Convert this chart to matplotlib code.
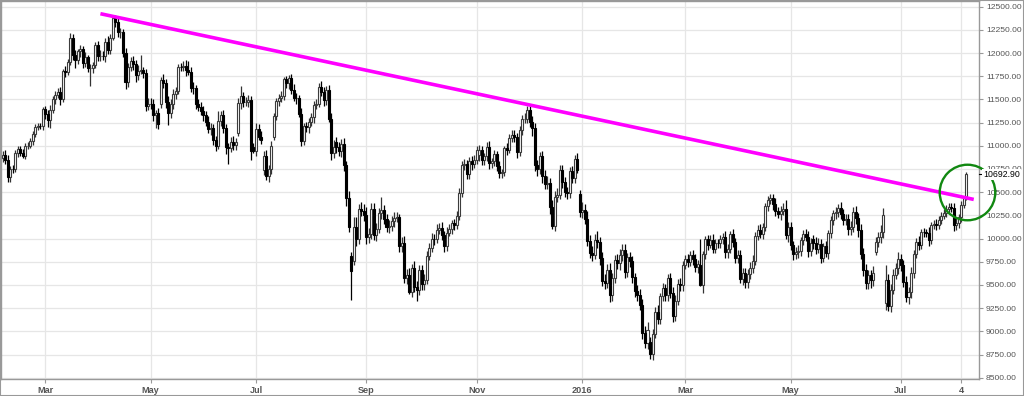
import numpy as np
import pandas as pd
import matplotlib
matplotlib.use('Agg')
import matplotlib.pyplot as plt
import matplotlib.transforms as mtransforms
from matplotlib.patches import Rectangle

plt.rcParams['font.family'] = ['Liberation Sans', 'DejaVu Sans']

# region Data (daily candles, Feb 2015 - Aug 2016)
holidays = ['2015-04-03', '2015-04-06', '2015-05-01', '2015-12-24', '2015-12-25',
            '2015-12-31', '2016-03-25', '2016-03-28']

opens = [
    10870, 10905, 10846, 10663, 10753, 10752, 10919, 10963, 10924, 10895, 11001, 11002, 11050, 11130, 11205, 11211, 11210,
    11401, 11345, 11280, 11390, 11504, 11551, 11583, 11500, 11806, 11799, 11901, 12167, 11980, 11922, 12018, 12039, 11896, 11954, 11843, 11843, 11868, 12086,
    11966, 11968, 11967, 12123, 12035, 12166, 12375, 12338, 12227, 12231, 11998, 11689, 11850, 11917, 11880, 11760, 11810, 11812, 11780, 11432,
    11454, 11452, 11327, 11350, 11450, 11709, 11674, 11472, 11351, 11447, 11560, 11590, 11853, 11848, 11864, 11815, 11800, 11625, 11620, 11450,
    11414, 11380, 11327, 11260, 11180, 11197, 11064, 11001, 11265, 11333, 11197, 10985, 10978, 11045, 11010, 11140, 11460, 11542, 11471, 11473, 11492, 10990,
    10945, 11181, 11100, 10740, 10891, 10676, 10747, 11100, 11316, 11484, 11516, 11539, 11717, 11673, 11735, 11604, 11520, 11512, 11347, 11056, 11211, 11198, 11257,
    11308, 11443, 11456, 11636, 11585, 11490, 11604, 11293, 10925, 11040, 10985, 10940, 11019, 10790, 10432, 9810, 9760, 10128, 9997, 10315, 10298,
    10259, 10016, 10048, 10318, 10038, 10108, 10271, 10303, 10210, 10123, 10132, 10188, 10227, 10229, 9916, 9949, 9571, 9612, 9428, 9688, 9483, 9450,
    9660, 9509, 9553, 9814, 9902, 9995, 9993, 10097, 10119, 10033, 9915, 10065, 10104, 10165, 10147, 10239, 10492, 10795, 10801, 10692, 10832, 10801,
    10850, 10900, 10951, 10845, 10887, 10988, 10815, 10832, 10907, 10783, 10708, 10713, 10971, 10959, 11085, 11119, 11092, 10933, 11170, 11284, 11293,
    11382, 11261, 11190, 10789, 10752, 10886, 10673, 10592, 10598, 10340, 10139, 10451, 10470, 10738, 10608, 10497, 10489, 10727, 10653, 10860,
    10485, 10283, 10310, 10214, 9979, 9849, 9825, 9985, 9960, 9794, 9545, 9521, 9664, 9391, 9574, 9764, 9737, 9823, 9880, 9639,
    9798, 9757, 9581, 9434, 9393, 9286, 8979, 8879, 8880, 8752, 8967, 9207, 9135, 9377, 9463, 9388, 9573, 9416, 9167, 9331, 9513,
    9495, 9717, 9777, 9752, 9824, 9778, 9692, 9720, 9498, 9831, 9990, 9933, 9983, 9892, 9950, 9948, 9990, 10022, 9851, 9887, 10046,
    9966, 9794, 9822, 9564, 9624, 9530, 9622, 9682, 9761, 10027, 10094, 10051, 10120, 10350, 10421, 10435, 10373, 10294, 10260, 10300, 10322,
    10039, 10123, 9926, 9829, 9852, 9870, 9980, 10045, 10022, 9862, 9990, 9952, 9891, 9943, 9795, 9916, 9842, 10057, 10205, 10272, 10287, 10333,
    10263, 10205, 10208, 10103, 10121, 10288, 10217, 10088, 9834, 9657, 9519, 9606, 9550, 9860, 9962, 10015, 10071, 9300, 9557, 9268, 9447, 9612,
    9680, 9776, 9710, 9533, 9374, 9419, 9630, 9833, 9965, 9930, 10068, 10066, 10064, 9982, 10143, 10157, 10147, 10199, 10247, 10275, 10320,
    10338, 10331, 10144, 10171, 10228, 10367, 10432,
]

closes = [
    10905, 10846, 10663, 10753, 10752, 10919, 10963, 10924, 10895, 11001, 11002, 11050, 11130, 11205, 11211, 11210, 11401,
    11345, 11280, 11390, 11504, 11551, 11583, 11500, 11806, 11799, 11901, 12167, 11980, 11922, 12018, 12039, 11896, 11954, 11843, 11843, 11868, 12086, 11966,
    11968, 11967, 12123, 12035, 12166, 12375, 12338, 12227, 12231, 11998, 11689, 11850, 11917, 11880, 11760, 11810, 11812, 11780, 11432, 11454,
    11452, 11327, 11350, 11240, 11709, 11674, 11472, 11351, 11447, 11560, 11590, 11853, 11848, 11864, 11815, 11800, 11625, 11620, 11450, 11414,
    11380, 11327, 11260, 11180, 11197, 11064, 11001, 11265, 11333, 11197, 10985, 10978, 11045, 11010, 11040, 11460, 11542, 11471, 11473, 11492, 10945, 10945,
    11181, 11100, 11058, 10891, 10676, 10747, 10996, 11316, 11484, 11516, 11539, 11717, 11673, 11735, 11604, 11520, 11512, 11347, 11056, 11211, 11198, 11257, 11308,
    11443, 11456, 11636, 11585, 11490, 11604, 11293, 10925, 10985, 10985, 10940, 11019, 10790, 10432, 10124, 9648, 10128, 9997, 10315, 10298, 10259,
    10016, 10048, 10318, 10038, 10108, 10271, 10303, 10210, 10123, 10132, 10188, 10227, 10229, 9916, 9949, 9571, 9612, 9428, 9688, 9483, 9450, 9660,
    9509, 9553, 9814, 9902, 9995, 9993, 10097, 10119, 10033, 9915, 10065, 10104, 10165, 10147, 10239, 10492, 10795, 10801, 10692, 10832, 10801, 10850,
    10951, 10951, 10845, 10887, 10988, 10815, 10832, 10907, 10783, 10708, 10713, 10971, 10959, 11085, 11119, 11092, 10933, 11170, 11284, 11293, 11382,
    11261, 11190, 10789, 10752, 10886, 10673, 10592, 10598, 10340, 10139, 10451, 10470, 10738, 10608, 10497, 10489, 10727, 10653, 10860, 10743,
    10283, 10310, 10214, 9979, 9849, 9825, 9985, 9960, 9794, 9545, 9521, 9664, 9391, 9574, 9764, 9737, 9823, 9880, 9639, 9798,
    9757, 9581, 9434, 9393, 9286, 8979, 8879, 9017, 8752, 8967, 9207, 9135, 9377, 9463, 9388, 9573, 9416, 9167, 9331, 9513, 9495,
    9717, 9777, 9752, 9824, 9778, 9692, 9723, 9498, 9831, 9990, 9933, 9983, 9892, 9950, 9948, 9990, 10022, 9851, 9887, 10046, 9966,
    9794, 9822, 9564, 9624, 9530, 9622, 9682, 9761, 10027, 10094, 10051, 10120, 10350, 10421, 10435, 10373, 10294, 10260, 10300, 10322, 10039,
    10123, 9926, 9829, 9852, 9870, 9980, 10045, 10022, 9862, 9952, 9952, 9891, 9943, 9795, 9916, 9842, 10057, 10205, 10272, 10287, 10333, 10263,
    10205, 10208, 10103, 10121, 10288, 10217, 10088, 9834, 9657, 9519, 9606, 9550, 9631, 9962, 10015, 10071, 10257, 9557, 9268, 9447, 9612, 9680,
    9776, 9710, 9533, 9374, 9419, 9630, 9833, 9965, 9930, 10068, 10066, 10064, 9982, 10143, 10157, 10147, 10199, 10247, 10275, 10320, 10338,
    10331, 10144, 10171, 10228, 10367, 10432, 10692.90,
]

# upper / lower shadow length above / below the body, in index points
wick_up = [
    40, 50, 60, 30, 40, 35, 30, 40, 45, 30, 35, 30, 25, 30, 35, 40, 20,
    30, 40, 50, 30, 40, 40, 50, 20, 50, 40, 52, 40, 50, 30, 50, 40, 60, 30, 40, 40, 30, 40,
    60, 50, 40, 60, 40, 15, 40, 60, 40, 30, 60, 40, 40, 50, 40, 60, 170, 40, 50, 60,
    60, 50, 40, 60, 30, 60, 50, 60, 60, 50, 40, 30, 40, 50, 60, 100, 50, 60, 40, 50,
    60, 50, 50, 60, 50, 40, 40, 105, 40, 50, 40, 40, 50, 60, 40, 50, 100, 40, 50, 60, 40, 40,
    60, 50, 60, 50, 60, 50, 60, 40, 30, 40, 50, 30, 40, 30, 40, 60, 50, 40, 60, 40, 50, 40, 50,
    40, 50, 40, 60, 50, 40, 50, 60, 80, 50, 60, 50, 60, 50, 80, 40, 100, 100, 60, 80, 70,
    80, 70, 60, 60, 60, 60, 150, 60, 60, 70, 50, 60, 60, 40, 70, 80, 60, 70, 40, 70, 60, 60,
    60, 60, 50, 50, 60, 50, 60, 50, 60, 50, 60, 50, 40, 50, 60, 50, 40, 60, 50, 50, 60, 50,
    50, 60, 50, 40, 50, 60, 40, 50, 40, 50, 40, 30, 60, 40, 50, 50, 50, 40, 50, 60, 50,
    48, 60, 60, 60, 50, 60, 70, 80, 60, 80, 60, 80, 50, 60, 60, 60, 40, 60, 40, 60,
    40, 80, 60, 80, 60, 70, 60, 100, 60, 60, 70, 60, 70, 60, 60, 70, 60, 60, 60, 50,
    60, 60, 50, 70, 60, 60, 80, 80, 60, 60, 50, 80, 40, 60, 50, 40, 60, 60, 60, 50, 60,
    40, 50, 60, 40, 50, 60, 50, 276, 40, 40, 50, 50, 70, 40, 40, 50, 40, 60, 50, 40, 60,
    40, 60, 60, 60, 60, 50, 60, 60, 40, 50, 60, 50, 30, 40, 40, 50, 60, 50, 50, 60, 90,
    60, 60, 50, 60, 60, 40, 50, 60, 60, 50, 50, 60, 60, 50, 40, 60, 30, 40, 40, 50, 40, 60,
    60, 60, 60, 70, 50, 60, 60, 70, 60, 70, 60, 60, 70, 50, 60, 70, 70, 163, 60, 60, 60, 60,
    80, 60, 60, 60, 60, 60, 40, 40, 60, 40, 50, 40, 60, 40, 40, 50, 40, 40, 40, 40, 40,
    40, 50, 60, 40, 40, 30, 20,
]

wick_dn = [
    50, 40, 50, 50, 40, 30, 40, 35, 30, 40, 40, 30, 40, 35, 40, 30, 40,
    60, 80, 90, 40, 50, 40, 60, 30, 60, 40, 30, 60, 80, 40, 60, 60, 50, 50, 200, 60, 30, 50,
    50, 40, 60, 50, 50, 30, 60, 50, 60, 40, 80, 50, 40, 60, 70, 50, 40, 50, 60, 50,
    50, 60, 137, 60, 40, 50, 60, 130, 50, 50, 60, 30, 40, 40, 60, 40, 50, 60, 50, 40,
    50, 60, 50, 40, 60, 50, 60, 40, 50, 60, 70, 178, 50, 60, 50, 30, 60, 50, 40, 60, 100, 25,
    50, 40, 40, 60, 40, 70, 50, 40, 40, 60, 40, 40, 50, 60, 50, 40, 60, 40, 60, 50, 50, 60, 40,
    60, 50, 40, 50, 60, 50, 40, 80, 60, 60, 50, 60, 60, 80, 50, 310, 40, 80, 60, 60, 70,
    80, 60, 50, 50, 60, 50, 60, 50, 50, 60, 50, 60, 50, 60, 60, 50, 60, 30, 60, 60, 120, 60,
    60, 60, 40, 50, 50, 60, 40, 50, 50, 60, 50, 40, 50, 50, 40, 40, 40, 60, 50, 50, 60, 40,
    50, 60, 50, 50, 50, 60, 50, 50, 60, 60, 60, 40, 60, 40, 40, 50, 60, 40, 50, 40, 50,
    60, 80, 60, 80, 60, 70, 60, 60, 70, 40, 60, 60, 40, 60, 50, 60, 50, 50, 50, 40,
    50, 60, 60, 60, 60, 70, 50, 60, 80, 60, 60, 50, 77, 60, 50, 60, 80, 60, 60, 50,
    60, 60, 60, 70, 60, 60, 60, 70, 53, 60, 40, 60, 60, 50, 60, 60, 60, 70, 60, 50, 60,
    60, 50, 60, 50, 60, 50, 60, 8, 80, 50, 60, 40, 50, 50, 50, 50, 50, 60, 60, 40, 60,
    60, 60, 40, 60, 60, 60, 60, 50, 50, 40, 50, 60, 40, 50, 50, 60, 50, 40, 60, 50, 40,
    80, 50, 60, 50, 60, 60, 50, 50, 60, 50, 60, 60, 50, 60, 50, 40, 60, 50, 60, 60, 50, 50,
    60, 60, 60, 60, 50, 60, 70, 50, 60, 60, 60, 80, 60, 40, 50, 60, 60, 74, 54, 60, 50, 50,
    60, 60, 60, 60, 80, 60, 60, 40, 50, 40, 50, 50, 60, 40, 40, 50, 40, 40, 40, 40, 40,
    40, 60, 50, 60, 50, 40, 20,
]

tick_dates = ['2015-03-02', '2015-05-04', '2015-07-01', '2015-09-01', '2015-11-02',
              '2016-01-04', '2016-03-01', '2016-05-02', '2016-07-01', '2016-08-04']
tick_labels = ['Mar', 'May', 'Jul', 'Sep', 'Nov', '2016', 'Mar', 'May', 'Jul', '4']

trend_dates = ['2015-04-01', '2016-08-11']
trend_prices = [12424, 10422]

circle_date = '2016-08-08'
circle_price = 10506
# endregion

# trading-day axis, one slot per session
dates = pd.bdate_range('2015-02-05', '2016-08-12').drop(pd.to_datetime(holidays))


def pos(day):
    return dates.get_loc(pd.Timestamp(day))


o = np.array(opens, dtype=float)
c = np.array(closes, dtype=float)
hi = np.maximum(o, c) + np.array(wick_up)
lo = np.minimum(o, c) - np.array(wick_dn)
x = np.arange(len(c))
rising = c >= o

fig = plt.figure(figsize=(10.24, 3.96), dpi=100, facecolor='white')
ax = fig.add_axes([0.001, 1 - 379 / 396, 978 / 1024, 378 / 396])

ax.vlines(x[rising], lo[rising], hi[rising], color='#333333', lw=0.9, zorder=2)
ax.vlines(x[~rising], lo[~rising], hi[~rising], color='black', lw=0.9, zorder=2)
ax.bar(x[rising], (c - o)[rising], bottom=o[rising], width=0.8, color='white',
       edgecolor='#3c3c3c', linewidth=0.8, zorder=3)
ax.bar(x[~rising], (o - c)[~rising], bottom=c[~rising], width=0.8, color='black',
       edgecolor='black', linewidth=0.8, zorder=3)

# resistance line and highlight
ax.plot([pos(d) for d in trend_dates], trend_prices, color='#ff00ff', lw=2.6,
        solid_capstyle='butt', zorder=4)
ax.plot(pos(circle_date) + 0.4, circle_price, 'o', ms=40, mfc='none', mec='#118811',
        mew=1.7, clip_on=False, zorder=5)

ax.set_xlim(-0.6, 389.1)
ax.set_ylim(8486, 12561)

ax.set_xticks([pos(d) for d in tick_dates])
ax.set_xticklabels(tick_labels)
ax.set_yticks(np.arange(8500, 12501, 250))
ax.yaxis.tick_right()
ax.yaxis.set_major_formatter('{x:.2f}')
ax.tick_params(axis='y', length=3, color='#999999', labelsize=6.1, labelcolor='#555555', pad=2)
ax.tick_params(axis='x', length=3, color='#999999', labelsize=6.6, labelcolor='#555555', pad=2)
for lab in ax.get_xticklabels():
    lab.set_fontweight('bold')

ax.grid(True, color='#e6e6e6', lw=0.9, zorder=0)
ax.set_axisbelow(True)
for sp in ax.spines.values():
    sp.set_color('#999999')
    sp.set_linewidth(1.0)

# last price tag on the price scale
trans = mtransforms.blended_transform_factory(ax.transAxes, ax.transData)
ax.plot([1.0, 1.005], [closes[-1]] * 2, transform=trans, color='black', lw=0.8,
        clip_on=False, zorder=10)
ax.annotate('{:.2f}'.format(closes[-1]), xy=(1.0, closes[-1]), xycoords=trans,
            xytext=(3, 0), textcoords='offset points', ha='left', va='center',
            fontsize=6.3, color='black', zorder=10, annotation_clip=False,
            bbox=dict(boxstyle='square,pad=0.12', fc='white', ec='none'))

fig.patches.append(Rectangle((0, 0), 1, 1, transform=fig.transFigure, fill=False,
                             edgecolor='#999999', lw=1.5))

fig.savefig('out.png', dpi=100, facecolor='white')
